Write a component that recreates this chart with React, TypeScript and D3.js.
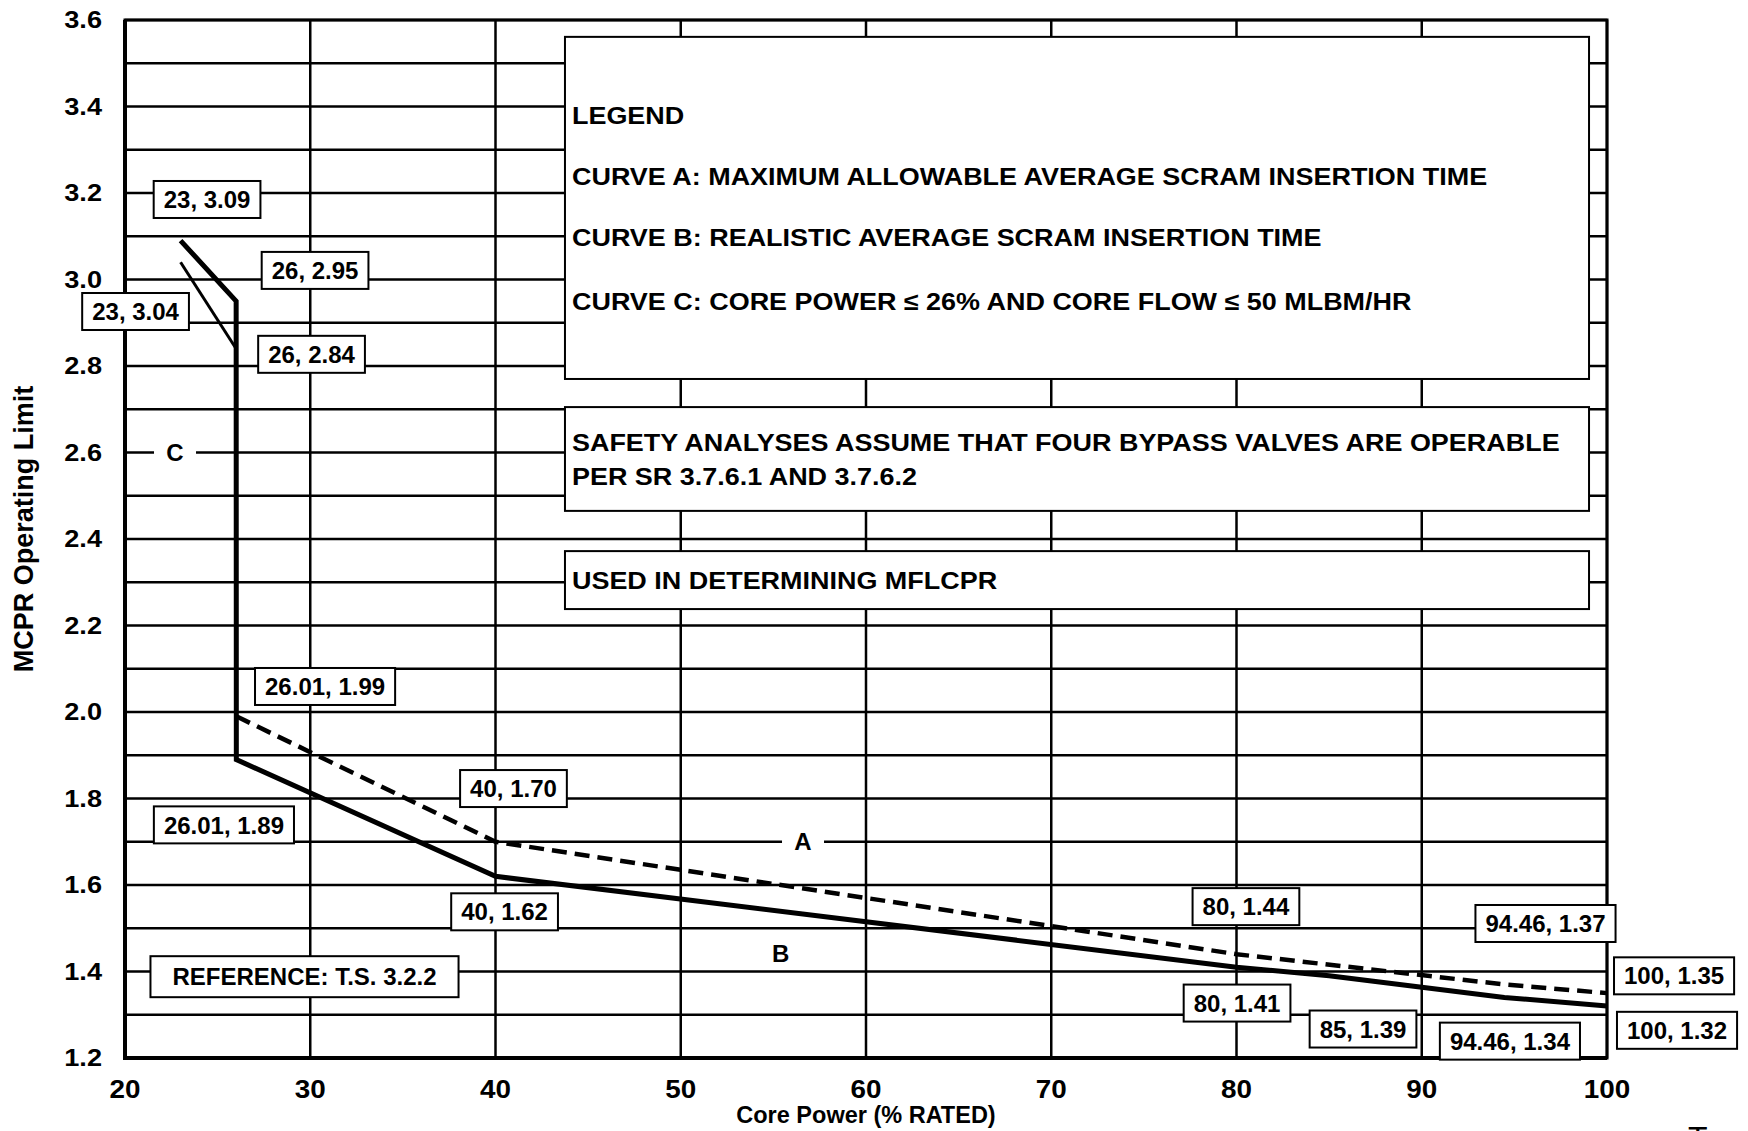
import React, { useEffect, useRef } from 'react';
import * as d3 from 'd3';

// curve data (core power %, MCPR limit)
const curveA = [
  { x: 26.01, y: 1.99 },
  { x: 40, y: 1.7 },
  { x: 80, y: 1.44 },
  { x: 94.46, y: 1.37 },
  { x: 100, y: 1.35 },
];
const curveB = [
  { x: 26.01, y: 1.89 },
  { x: 40, y: 1.62 },
  { x: 80, y: 1.41 },
  { x: 85, y: 1.39 },
  { x: 94.46, y: 1.34 },
  { x: 100, y: 1.32 },
];
const curveC = [
  { x: 23, y: 3.09 },
  { x: 26, y: 2.95 },
];
const curveCLow = [
  { x: 23, y: 3.04 },
  { x: 26, y: 2.84 },
];

const xTicks = [20, 30, 40, 50, 60, 70, 80, 90, 100];
const yTicks = [1.2, 1.4, 1.6, 1.8, 2.0, 2.2, 2.4, 2.6, 2.8, 3.0, 3.2, 3.4, 3.6];
const yGrid = d3.range(12, 37).map((d) => d / 10);

// point labels: text + centre in data units
const pointLabels = [
  { text: '23, 3.09', x: 24.43, y: 3.185 },
  { text: '26, 2.95', x: 30.26, y: 3.021 },
  { text: '23, 3.04', x: 20.57, y: 2.926 },
  { text: '26, 2.84', x: 30.07, y: 2.827 },
  { text: '26.01, 1.99', x: 30.8, y: 2.059 },
  { text: '26.01, 1.89', x: 25.34, y: 1.739 },
  { text: '40, 1.70', x: 40.97, y: 1.823 },
  { text: '40, 1.62', x: 40.49, y: 1.538 },
  { text: '80, 1.44', x: 80.51, y: 1.55 },
  { text: '94.46, 1.37', x: 96.68, y: 1.511 },
  { text: '100, 1.35', x: 103.62, y: 1.39 },
  { text: '80, 1.41', x: 80.03, y: 1.327 },
  { text: '85, 1.39', x: 86.83, y: 1.267 },
  { text: '94.46, 1.34', x: 94.76, y: 1.239 },
  { text: '100, 1.32', x: 103.78, y: 1.264 },
  { text: 'REFERENCE: T.S. 3.2.2', x: 29.69, y: 1.388 },
];

const curveNames = [
  { text: 'C', x: 22.7, y: 2.6, gap: true },
  { text: 'A', x: 56.6, y: 1.7, gap: true },
  { text: 'B', x: 55.4, y: 1.443, gap: false },
];

const legendLines = [
  'LEGEND',
  'CURVE A: MAXIMUM ALLOWABLE AVERAGE SCRAM INSERTION TIME',
  'CURVE B: REALISTIC AVERAGE SCRAM INSERTION TIME',
  'CURVE C: CORE POWER \u2264 26% AND CORE FLOW \u2264 50 MLBM/HR',
];
const noteLines = [
  'SAFETY ANALYSES ASSUME THAT FOUR BYPASS VALVES ARE OPERABLE',
  'PER SR 3.7.6.1 AND 3.7.6.2',
];
const usedLine = 'USED IN DETERMINING MFLCPR';

const FONT = '"Liberation Sans", Arial, Helvetica, sans-serif';

export default function App() {
  const ref = useRef<SVGSVGElement>(null);

  useEffect(() => {
    if (!ref.current) return;
    const svg = d3.select(ref.current);
    svg.selectAll('*').remove();

    const width = 1748;
    const height = 1131;
    const margin = { top: 20, right: 141, bottom: 73, left: 125 };

    const x = d3.scaleLinear().domain([20, 100]).range([margin.left, width - margin.right]);
    const y = d3.scaleLinear().domain([1.2, 3.6]).range([height - margin.bottom, margin.top]);

    svg.append('rect').attr('width', width).attr('height', height).attr('fill', '#fff');

    // bold text, optionally stretched sideways like the scanned original
    const label = (
      px: number,
      py: number,
      txt: string,
      size: number,
      sx = 1,
      anchor = 'start',
      dy = '0'
    ) =>
      svg.append('text')
        .attr('transform', `translate(${px},${py}) scale(${sx},1)`)
        .attr('dy', dy)
        .attr('text-anchor', anchor)
        .attr('font-family', FONT)
        .attr('font-weight', 'bold')
        .attr('font-size', size)
        .text(txt);

    // ------- Grid -------
    const grid = svg.append('g').attr('stroke', '#000').attr('stroke-width', 2.5);
    grid.selectAll('line.h')
      .data(yGrid)
      .enter()
      .append('line')
      .attr('x1', x(20))
      .attr('x2', x(100))
      .attr('y1', (d) => y(d))
      .attr('y2', (d) => y(d));
    grid.selectAll('line.v')
      .data(xTicks)
      .enter()
      .append('line')
      .attr('y1', y(1.2))
      .attr('y2', y(3.6))
      .attr('x1', (d) => x(d))
      .attr('x2', (d) => x(d));

    // frame
    svg.append('rect')
      .attr('x', x(20))
      .attr('y', y(3.6))
      .attr('width', x(100) - x(20))
      .attr('height', y(1.2) - y(3.6))
      .attr('fill', 'none')
      .attr('stroke', '#000')
      .attr('stroke-width', 3);
    svg.append('path')
      .attr('d', `M${x(20)},${y(3.6)}V${y(1.2)}H${x(100)}`)
      .attr('fill', 'none')
      .attr('stroke', '#000')
      .attr('stroke-width', 4);

    // ------- Legend boxes -------
    const boxX = x(43.75);
    const boxW = x(99.03) - boxX;
    const textX = boxX + 7;

    const box = (top: number, bottom: number) =>
      svg.append('rect')
        .attr('x', boxX)
        .attr('y', y(top))
        .attr('width', boxW)
        .attr('height', y(bottom) - y(top))
        .attr('fill', '#fff')
        .attr('stroke', '#000')
        .attr('stroke-width', 2);

    box(3.561, 2.77);
    legendLines.forEach((t, i) => label(textX, [124, 185, 246, 310][i], t, 24.5, 1.1));

    box(2.705, 2.465);
    noteLines.forEach((t, i) => label(textX, [451, 485][i], t, 24.5, 1.1));

    box(2.372, 2.238);
    label(textX, 589, usedLine, 24.5, 1.1);

    // ------- Curves -------
    const line = d3.line<{ x: number; y: number }>()
      .x((d) => x(d.x))
      .y((d) => y(d.y));

    svg.append('path')
      .datum(curveA)
      .attr('fill', 'none')
      .attr('stroke', '#000')
      .attr('stroke-width', 4.5)
      .attr('stroke-dasharray', '15 8')
      .attr('d', line);

    svg.append('path')
      .datum([...curveC, ...curveB])
      .attr('fill', 'none')
      .attr('stroke', '#000')
      .attr('stroke-width', 5)
      .attr('stroke-linejoin', 'miter')
      .attr('d', line);

    svg.append('path')
      .datum(curveCLow)
      .attr('fill', 'none')
      .attr('stroke', '#000')
      .attr('stroke-width', 3)
      .attr('d', line);

    // ------- Curve names -------
    curveNames.forEach((c) => {
      if (c.gap) {
        svg.append('rect')
          .attr('x', x(c.x) - 21)
          .attr('y', y(c.y) - 14)
          .attr('width', 42)
          .attr('height', 28)
          .attr('fill', '#fff');
      }
      label(x(c.x), y(c.y), c.text, 24, 1, 'middle', '0.36em');
    });

    // ------- Point labels -------
    pointLabels.forEach((p) => {
      const r = svg.append('rect')
        .attr('fill', '#fff')
        .attr('stroke', '#000')
        .attr('stroke-width', 2);
      const t = label(x(p.x), y(p.y), p.text, 24, 1, 'middle', '0.36em');
      const w = (t.node() as SVGTextElement).getComputedTextLength();
      const isRef = p.text.startsWith('REF');
      const padX = isRef ? 22 : 10;
      const h = isRef ? 41 : 37;
      r.attr('x', x(p.x) - w / 2 - padX)
        .attr('y', y(p.y) - h / 2)
        .attr('width', w + padX * 2)
        .attr('height', h);
    });

    // ------- Tick labels -------
    yTicks.forEach((d) => label(102, y(d), d3.format('.1f')(d), 23, 1.18, 'end', '0.36em'));
    xTicks.forEach((d) => label(x(d), 1098, String(d), 26.5, 1.05, 'middle'));

    // ------- Axis titles -------
    label(x(60), 1123, 'Core Power (% RATED)', 23.5, 1, 'middle');

    svg.append('text')
      .attr('transform', `translate(33, 529) rotate(-90)`)
      .attr('text-anchor', 'middle')
      .attr('font-family', FONT)
      .attr('font-weight', 'bold')
      .attr('font-size', 27)
      .text('MCPR Operating Limit');

    // cut-off footer letter at the page bottom
    svg.append('text')
      .attr('x', 1688)
      .attr('y', 1149)
      .attr('font-family', FONT)
      .attr('font-size', 32)
      .text('T');
  }, []);

  return (
    <svg
      ref={ref}
      width={1748}
      height={1131}
      style={{ position: 'absolute', left: 0, top: 0 }}
    />
  );
}
